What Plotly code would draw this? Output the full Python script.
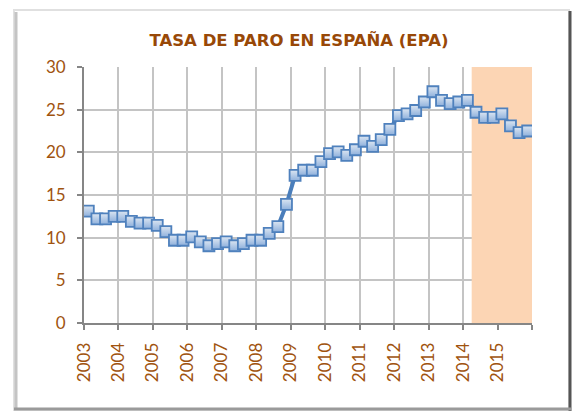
import plotly.graph_objects as go

# Quarterly unemployment rate (EPA), 2003Q1 .. 2015Q4
years = list(range(2003, 2016))
quarters_per_year = 4
tasa_paro = [
    13.1, 12.2, 12.2, 12.5,   # 2003
    12.5, 11.9, 11.7, 11.7,   # 2004
    11.45, 10.7, 9.7, 9.7,    # 2005
    10.1, 9.5, 9.05, 9.3,     # 2006
    9.5, 9.05, 9.3, 9.7,      # 2007
    9.7, 10.5, 11.3, 13.9,    # 2008
    17.3, 17.9, 17.9, 18.9,   # 2009
    19.85, 20.05, 19.65, 20.3,  # 2010
    21.3, 20.7, 21.5, 22.7,   # 2011
    24.3, 24.5, 24.9, 25.9,   # 2012
    27.1, 26.1, 25.7, 25.9,   # 2013
    26.1, 24.7, 24.1, 24.1,   # 2014
    24.5, 23.1, 22.3, 22.5,   # 2015
]
y_ticks = [0, 5, 10, 15, 20, 25, 30]
title_text = "TASA DE PARO EN ESPAÑA (EPA)"
shade_start = 2014.25
shade_end = 2016

x_vals = [y + (q + 0.5) / quarters_per_year for y in years for q in range(quarters_per_year)]

brown = "#A0530F"

# page offset of the figure (default body margin)
OFF = 8
PL, PR, PT, PB = 84, 532, 67, 323  # plot area in page pixels
PW, PH = PR - PL, PB - PT


def px(x):
    return (x - PL) / PW


def py(y):
    return (PB - y) / PH


fig = go.Figure()
fig.add_trace(go.Scatter(
    x=x_vals, y=tasa_paro, mode="lines+markers",
    line=dict(color="#4A7EBB", width=4),
    marker=dict(symbol="square", size=11, color="#dce6f2",
                gradient=dict(type="vertical", color="#8eb0dc"),
                line=dict(color="#4F81BD", width=1.8)),
    showlegend=False, hoverinfo="x+y",
))

shapes = [
    dict(type="rect", xref="x", yref="y", x0=shade_start, x1=shade_end, y0=0, y1=30,
         fillcolor="#FCD5B4", line=dict(width=0), layer="between"),
    # outer frame
    dict(type="rect", xref="paper", yref="paper",
         x0=px(14), x1=px(569), y0=py(410), y1=py(10),
         line=dict(color="#e0e0e0", width=2), layer="below"),
    dict(type="line", xref="paper", yref="paper",
         x0=px(16), x1=px(16), y0=py(408), y1=py(12),
         line=dict(color="#c4c4c4", width=3), layer="below"),
    dict(type="line", xref="paper", yref="paper",
         x0=px(570), x1=px(570), y0=py(411), y1=py(11),
         line=dict(color="#555555", width=3), layer="below"),
    dict(type="line", xref="paper", yref="paper",
         x0=px(14), x1=px(571), y0=py(409), y1=py(409),
         line=dict(color="#9a9a9a", width=3), layer="below"),
]

tickvals = years + [shade_end]
ticktext = [str(y) for y in years] + [""]

W, H = 585 - OFF, 416 - OFF
fig.update_layout(
    width=W, height=H,
    margin=dict(l=PL - OFF, r=W - (PR - OFF), t=PT - OFF, b=H - (PB - OFF)),
    paper_bgcolor="white", plot_bgcolor="white",
    title=dict(text="<b>" + title_text + "</b>", x=(299 - OFF) / W, xanchor="center",
               y=1 - (40 - OFF) / H, yanchor="middle",
               font=dict(family="DejaVu Sans", size=16.5, color="#984807")),
    shapes=shapes,
    xaxis=dict(range=[2003, 2016], tickvals=tickvals, ticktext=ticktext,
               tickangle=-90, ticks="outside", ticklen=5, tickcolor="#868686",
               tickwidth=1.5, ticklabelstandoff=6,
               showgrid=True, gridcolor="#c4c4c4", gridwidth=1.8,
               showline=True, linecolor="#868686", linewidth=1.8,
               tickfont=dict(family="Lato", size=17, color=brown),
               zeroline=False, fixedrange=True),
    yaxis=dict(range=[0, 30], tickvals=y_ticks,
               ticks="outside", ticklen=5, tickcolor="#868686", tickwidth=1.5,
               ticklabelstandoff=8,
               showgrid=True, gridcolor="#c4c4c4", gridwidth=1.8,
               showline=True, linecolor="#868686", linewidth=1.8,
               tickfont=dict(family="Lato", size=17, color=brown),
               zeroline=False, fixedrange=True),
)

fig.write_html("out.html")
